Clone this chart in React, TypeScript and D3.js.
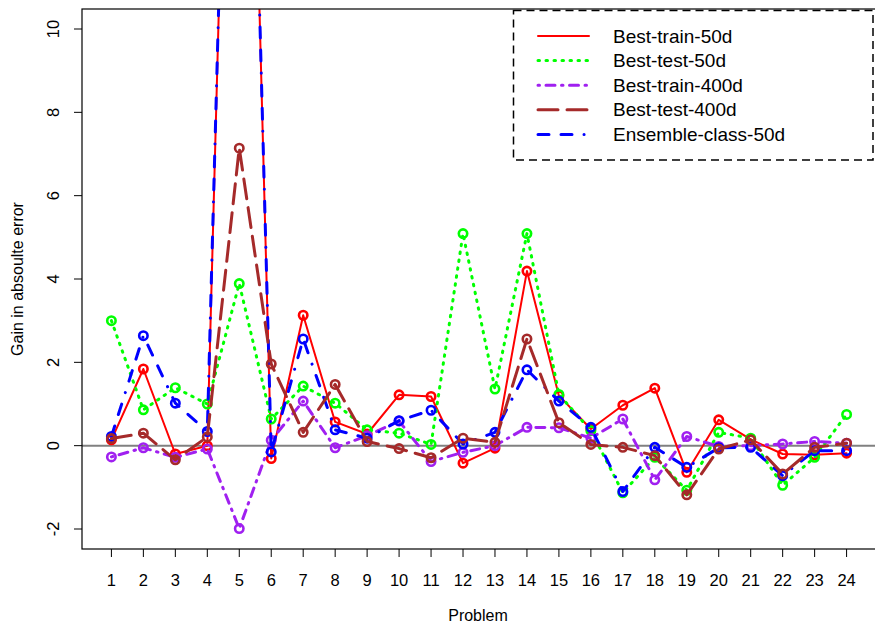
import React from "react";
import * as d3 from "d3";

const problems = d3.range(1, 25);
const yTicks = [-2, 0, 2, 4, 6, 8, 10];

const bestTrain50 = [0.14, 1.84, -0.2, 0.0, 29, -0.31, 3.13, 0.57, 0.28, 1.22, 1.18, -0.42, -0.06, 4.19, 1.2, 0.4, 0.97, 1.38, -0.64, 0.62, 0.15, -0.2, -0.22, -0.18];
const bestTest50 = [3.0, 0.86, 1.39, 1.0, 3.89, 0.64, 1.43, 1.02, 0.38, 0.3, 0.03, 5.09, 1.36, 5.09, 1.23, 0.36, -1.13, -0.28, -1.07, 0.32, 0.18, -0.95, -0.28, 0.75];
const bestTrain400 = [-0.27, -0.05, -0.28, -0.08, -1.99, 0.13, 1.07, -0.05, 0.24, 0.59, -0.38, -0.16, 0.0, 0.44, 0.43, 0.18, 0.64, -0.82, 0.22, -0.02, 0.0, 0.04, 0.1, 0.06];
const bestTest400 = [0.17, 0.3, -0.34, 0.21, 7.14, 1.96, 0.32, 1.47, 0.1, -0.07, -0.29, 0.18, 0.08, 2.56, 0.55, 0.03, -0.04, -0.24, -1.18, -0.08, 0.14, -0.68, -0.04, 0.06];
const ensemble50 = [0.22, 2.64, 1.02, 0.34, 29, -0.15, 2.56, 0.38, 0.18, 0.6, 0.85, 0.04, 0.32, 1.82, 1.07, 0.44, -1.1, -0.04, -0.52, -0.05, -0.04, -0.72, -0.12, -0.12];

const seriesNames = ["Best-train-50d", "Best-test-50d", "Best-train-400d", "Best-test-400d", "Ensemble-class-50d"];

const styles: Record<string, { color: string; width: number; dash: string | undefined }> = {
  "Best-train-50d": { color: "#ff0000", width: 2, dash: undefined },
  "Best-test-50d": { color: "#00ff00", width: 3, dash: "1.5 6.5" },
  "Best-train-400d": { color: "#a020f0", width: 3, dash: "1.5 6.5 9 6.5" },
  "Best-test-400d": { color: "#a52a2a", width: 3, dash: "20 9" },
  "Ensemble-class-50d": { color: "#0000ff", width: 3, dash: "11 12 11 12 0.1 12" },
};

const dataBy: Record<string, number[]> = {
  "Best-train-50d": bestTrain50,
  "Best-test-50d": bestTest50,
  "Best-train-400d": bestTrain400,
  "Best-test-400d": bestTest400,
  "Ensemble-class-50d": ensemble50,
};

const drawOrder = ["Best-train-50d", "Best-test-50d", "Best-train-400d", "Ensemble-class-50d", "Best-test-400d"];

export default function App() {
  const W = 875, H = 624;
  const left = 82, right = 876, top = 9, bottom = 549;
  const x = d3.scaleLinear().domain([0.08, 24.92]).range([left, right]);
  const y = d3.scaleLinear().domain([-2.48, 10.48]).range([bottom, top]);
  const font = "'Liberation Sans', Arial, Helvetica, sans-serif";

  const line = d3
    .line<number>()
    .x((_, i) => x(problems[i]))
    .y((d) => y(d));

  const legendRows = seriesNames.map((n, i) => ({ n, yy: 36 + i * 24.6 }));

  return (
    <div style={{ position: "fixed", left: 0, top: 0 }}>
      <svg width={W} height={H} style={{ display: "block", background: "#fff" }}>
        <defs>
          <clipPath id="plotClip">
            <rect x={left} y={top} width={right - left} height={bottom - top} />
          </clipPath>
        </defs>
        <rect x={0} y={0} width={W} height={H} fill="#fff" />
        <g clipPath="url(#plotClip)">
          <line x1={left} x2={right} y1={y(0)} y2={y(0)} stroke="#808080" strokeWidth={2} />
          {drawOrder.map((n) => {
            const s = styles[n];
            const vals = dataBy[n];
            return (
              <g key={n}>
                <path
                  d={line(vals) || ""}
                  fill="none"
                  stroke={s.color}
                  strokeWidth={s.width}
                  strokeDasharray={s.dash}
                  strokeLinecap="round"
                  strokeLinejoin="round"
                />
                {vals.map((v, i) => (
                  <circle key={i} cx={x(problems[i])} cy={y(v)} r={4.2} fill="none" stroke={s.color} strokeWidth={2.6} />
                ))}
              </g>
            );
          })}
        </g>
        <rect x={left} y={top} width={right - left} height={bottom - top} fill="none" stroke="#000" strokeWidth={1.2} />
        {problems.map((p) => (
          <g key={p}>
            <line x1={x(p)} x2={x(p)} y1={bottom} y2={bottom + 8} stroke="#000" strokeWidth={1} />
            <text x={x(p)} y={580} textAnchor="middle" dominantBaseline="central" fontFamily={font} fontSize={16.5} fill="#000">
              {p}
            </text>
          </g>
        ))}
        {yTicks.map((t) => (
          <g key={t}>
            <line x1={left - 8} x2={left} y1={y(t)} y2={y(t)} stroke="#000" strokeWidth={1} />
            <text
              transform={`translate(53,${y(t)}) rotate(-90)`}
              textAnchor="middle"
              dominantBaseline="central"
              fontFamily={font}
              fontSize={16.5}
              fill="#000"
            >
              {t}
            </text>
          </g>
        ))}
        <text x={(left + right) / 2 - 1} y={615} textAnchor="middle" dominantBaseline="central" fontFamily={font} fontSize={16} fill="#000">
          Problem
        </text>
        <text
          transform={`translate(17,${(top + bottom) / 2}) rotate(-90)`}
          textAnchor="middle"
          dominantBaseline="central"
          fontFamily={font}
          fontSize={16}
          fill="#000"
        >
          Gain in absoulte error
        </text>
        <rect x={513.5} y={10.5} width={359.5} height={149.5} fill="#fff" stroke="#000" strokeWidth={1.5} strokeDasharray="8 5" />
        {legendRows.map(({ n, yy }) => {
          const s = styles[n];
          return (
            <g key={n}>
              <line
                x1={538}
                x2={589}
                y1={yy}
                y2={yy}
                stroke={s.color}
                strokeWidth={s.width}
                strokeDasharray={s.dash}
                strokeLinecap="round"
              />
              <text x={613} y={yy} dominantBaseline="central" fontFamily={font} fontSize={19} fill="#000">
                {n}
              </text>
            </g>
          );
        })}
      </svg>
    </div>
  );
}
